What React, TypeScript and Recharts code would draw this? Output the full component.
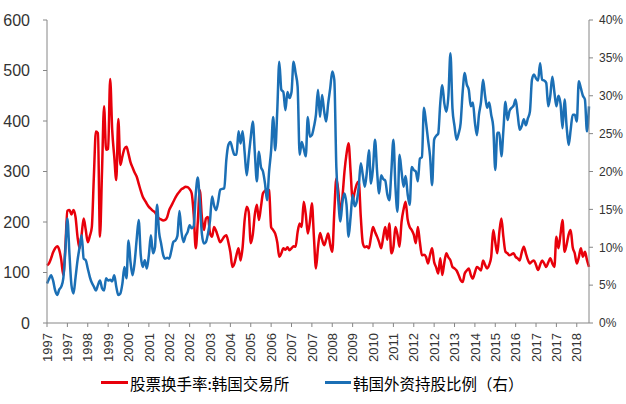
import React from 'react';
import { LineChart, Line, XAxis, YAxis, Legend } from 'recharts';

// 股票换手率（韩国交易所），月度，1997-01 起
const turnover = [
  114, 118, 128, 140, 148, 152, 145, 125, 95, 150, 222, 224,
  215, 224, 210, 170, 148, 175, 207, 185, 160, 172, 190, 290,
  379, 376, 171, 300, 429, 343, 345, 483, 382, 330, 283, 404,
  313, 330, 345, 349, 335, 318, 308, 298, 290, 276, 262, 250,
  243, 236, 230, 226, 222, 219, 212, 207, 205, 203, 204, 210,
  224, 232, 240, 248, 255, 260, 265, 267, 270, 269, 265, 257,
  215, 148, 200, 263, 210, 184, 207, 210, 178, 171, 190, 182,
  170, 160, 165, 171, 174, 160, 140, 111, 118, 135, 148, 124,
  150, 204, 230, 220, 158, 175, 215, 234, 204, 230, 257, 262,
  265, 263, 190, 184, 177, 160, 131, 138, 148, 145, 150, 144,
  148, 152, 151, 180, 197, 190, 240, 215, 177, 200, 237, 170,
  108, 150, 178, 165, 154, 165, 177, 155, 141, 220, 286, 260,
  217, 250, 300, 335, 356, 300, 243, 260, 275, 280, 210, 158,
  150, 152, 148, 170, 190, 180, 171, 160, 148, 170, 190, 165,
  197, 138, 150, 190, 175, 151, 200, 225, 240, 205, 190, 184,
  175, 158, 190, 160, 134, 135, 131, 118, 135, 148, 121, 110,
  98, 128, 95, 120, 138, 130, 124, 111, 108, 104, 95, 85,
  81, 98, 104, 108, 95, 88, 100, 111, 108, 104, 124, 115,
  108, 115, 131, 184, 160, 138, 180, 207, 170, 141, 138, 134,
  136, 138, 131, 128, 124, 140, 151, 138, 125, 118, 122, 124,
  115, 105, 115, 124, 118, 111, 120, 128, 118, 111, 171, 148,
  175, 204, 141, 155, 175, 184, 150, 138, 118, 130, 148, 131,
  141, 125, 111,
];

// 韩国外资持股比例（%），右轴
const foreignShare = [
  5.2, 5.8, 6.3, 5.6, 4.3, 3.7, 4.4, 4.8, 5.9, 9.5, 13.8, 9.2,
  5.0, 3.9, 6.0, 8.3, 10.0, 11.6, 8.5, 8.3, 7.2, 6.1, 5.3, 4.8,
  4.3, 5.0, 5.6, 4.6, 4.3, 5.9, 5.6, 5.7, 5.5, 6.3, 4.8, 3.7,
  3.9, 5.2, 7.4, 5.9, 10.9, 8.0, 6.3, 8.0, 11.0, 13.6, 9.0, 7.4,
  8.3, 7.2, 9.0, 11.6, 9.2, 10.0, 15.6, 12.0, 10.5, 9.0, 8.5, 8.6,
  8.5, 9.5, 10.7, 10.9, 11.5, 14.8, 12.0, 10.7, 11.5, 12.0, 12.9, 12.5,
  12.8, 17.0, 19.2, 16.0, 11.8, 10.5, 10.7, 11.8, 13.5, 16.7, 15.5, 14.9,
  16.0, 17.6, 17.7, 17.8, 21.5, 23.5, 23.9, 23.0, 22.2, 22.2, 25.3, 23.7,
  25.3, 22.5, 19.5, 22.0, 24.5, 26.6, 22.5, 18.7, 22.6, 20.6, 20.0, 18.4,
  16.2, 20.0, 22.8, 27.2, 22.8, 28.0, 34.5, 30.8, 30.5, 28.1, 30.5, 29.7,
  30.5, 34.5, 33.0, 31.2, 22.2, 23.9, 23.0, 22.0, 27.2, 24.6, 24.8, 25.9,
  27.5, 30.8, 27.2, 30.1, 28.0, 26.6, 29.0, 31.0, 33.2, 32.1, 20.6, 16.0,
  13.4, 16.0, 17.1, 15.6, 11.4, 14.0, 16.9, 15.4, 16.0, 18.0, 21.1, 19.5,
  18.0, 20.0, 22.8, 18.4, 20.5, 24.2, 20.0, 17.1, 19.5, 19.0, 18.8, 17.0,
  16.2, 20.0, 24.2, 18.0, 14.7, 22.2, 20.0, 18.0, 19.4, 17.0, 15.6, 20.6,
  20.2, 20.0, 18.7, 21.7, 21.9, 28.4, 26.5, 24.2, 22.0, 18.2, 24.2, 24.7,
  25.0, 29.0, 31.4, 29.0, 27.9, 30.0, 35.6, 28.3, 26.0, 24.2, 25.0, 26.4,
  30.5, 33.0, 31.5, 30.8, 28.6, 29.1, 26.5, 24.8, 27.5, 29.2, 32.1, 30.0,
  28.4, 29.1, 27.5, 25.9, 20.2, 25.1, 25.1, 22.0, 25.5, 29.2, 26.8, 28.0,
  28.4, 28.7, 29.5, 27.5, 25.5, 26.0, 26.9, 26.1, 27.0, 27.9, 32.1, 32.8,
  32.3, 32.0, 34.3, 32.1, 32.0, 31.7, 28.6, 30.0, 32.5, 30.5, 28.6, 30.0,
  29.0, 25.7, 29.5, 26.0, 23.5, 25.5, 27.5, 27.5, 26.6, 31.9, 31.0, 30.0,
  29.5, 25.3, 28.6,
];

const leftTicks = [0, 100, 200, 300, 400, 500, 600];
const rightTicks = [0, 5, 10, 15, 20, 25, 30, 35, 40];

const RED = '#E8000B';
const BLUE = '#1B6FB5';
const AXIS = '#868686';
const TEXT = '#333333';
const NUM_FONT = '"Liberation Sans", Arial, sans-serif';
const CJK_FONT = '"Noto Sans CJK SC", "Noto Sans", sans-serif';

// month labels, 1997-01 onwards
const months = turnover.map((_, i) => {
  const y = 1997 + Math.floor(i / 12);
  const m = (i % 12) + 1;
  return `${y}-${m < 10 ? '0' : ''}${m}`;
});

const data = months.map((m, i) => ({
  month: m,
  turnover: turnover[i],
  foreignShare: foreignShare[i],
}));

const YearTick = (props: any) => {
  const { x, y, payload } = props;
  return (
    <g transform={`translate(${x},${y})`}>
      <text
        transform="rotate(-90)"
        x={-4}
        dy="0.36em"
        textAnchor="end"
        fill={TEXT}
        fontSize={13}
        fontFamily={NUM_FONT}
      >
        {String(payload.value).slice(0, 4)}
      </text>
    </g>
  );
};

const ChartLegend = () => (
  <div style={{ position: 'relative', width: 626, height: 43, fontFamily: CJK_FONT, fontSize: 15.5, color: '#000' }}>
    <div style={{ position: 'absolute', left: 101, top: 0, height: 43, display: 'flex', alignItems: 'center' }}>
      <span style={{ display: 'inline-block', width: 27, height: 3, background: RED, marginRight: 2 }} />
      <span>股票换手率:韩国交易所</span>
    </div>
    <div style={{ position: 'absolute', left: 325, top: 0, height: 43, display: 'flex', alignItems: 'center' }}>
      <span style={{ display: 'inline-block', width: 26, height: 3, background: BLUE, marginRight: 2 }} />
      <span>韩国外资持股比例（右）</span>
    </div>
  </div>
);

export default function App() {
  return (
    <div style={{ position: 'absolute', left: 0, top: 0, width: 626, height: 404, background: '#fff' }}>
      <LineChart width={626} height={404} data={data} margin={{ top: 20, right: 0, bottom: 0, left: 0 }}>
        <XAxis
          dataKey="month"
          interval={9}
          height={38}
          tick={<YearTick />}
          tickSize={4}
          stroke={AXIS}
          tickLine={{ stroke: AXIS }}
        />
        <YAxis
          yAxisId="left"
          domain={[0, 600]}
          ticks={leftTicks}
          width={47}
          tickSize={4}
          tickMargin={13}
          stroke={AXIS}
          tick={{ fill: TEXT, fontSize: 16, fontFamily: NUM_FONT }}
        />
        <YAxis
          yAxisId="right"
          orientation="right"
          domain={[0, 40]}
          ticks={rightTicks}
          width={37}
          tickSize={4}
          tickMargin={6}
          stroke={AXIS}
          tickFormatter={(v: number) => `${v}%`}
          tick={{ fill: TEXT, fontSize: 12, fontFamily: NUM_FONT }}
        />
        <Legend verticalAlign="bottom" content={() => <ChartLegend />} wrapperStyle={{ left: 0, width: 626 }} />
        <Line
          yAxisId="left"
          type="monotone"
          dataKey="turnover"
          stroke={RED}
          strokeWidth={2.5}
          dot={false}
          isAnimationActive={false}
        />
        <Line
          yAxisId="right"
          type="monotone"
          dataKey="foreignShare"
          stroke={BLUE}
          strokeWidth={2.5}
          dot={false}
          isAnimationActive={false}
        />
      </LineChart>
    </div>
  );
}
